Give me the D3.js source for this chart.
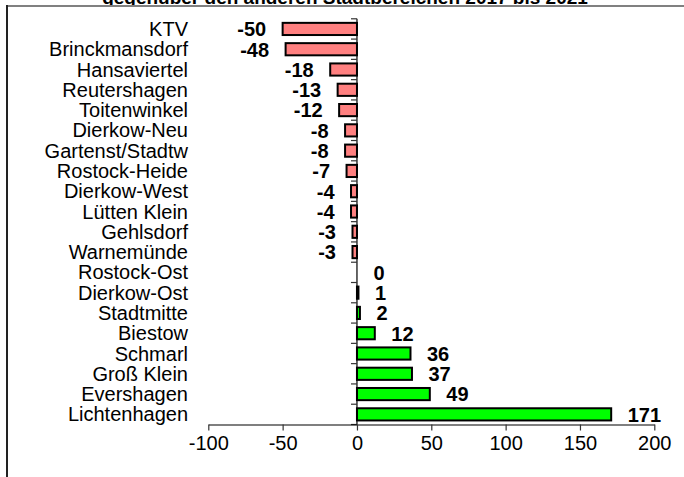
<!DOCTYPE html>
<html><head><meta charset="utf-8">
<script src="https://cdn.jsdelivr.net/npm/d3@7"></script>
<style>html,body{margin:0;padding:0;background:#fff;overflow:hidden}</style>
</head><body>
<script>
const categories = ["KTV","Brinckmansdorf","Hansaviertel","Reutershagen","Toitenwinkel","Dierkow-Neu","Gartenst/Stadtw","Rostock-Heide","Dierkow-West","Lütten Klein","Gehlsdorf","Warnemünde","Rostock-Ost","Dierkow-Ost","Stadtmitte","Biestow","Schmarl","Groß Klein","Evershagen","Lichtenhagen"];
const values = [-50,-48,-18,-13,-12,-8,-8,-7,-4,-4,-3,-3,0,1,2,12,36,37,49,171];
const xTicks = [-100,-50,0,50,100,150,200];
const title = "gegenüber den anderen Stadtbereichen 2017 bis 2021";

const W = 684, H = 477;
const FS = 20;
const svg = d3.select("body").append("svg").attr("width", W).attr("height", H)
  .style("font-family", "Arial, 'Liberation Sans', sans-serif");

svg.append("text").attr("x", 345).attr("y", 4).attr("text-anchor", "middle")
  .attr("font-weight", "bold").attr("font-size", 19).attr("fill", "#000").text(title);
svg.append("rect").attr("x", 6).attr("y", 5).attr("width", W).attr("height", H).attr("fill", "#fff");
svg.append("line").attr("x1", 6).attr("x2", W).attr("y1", 6).attr("y2", 6).attr("stroke", "#808080").attr("stroke-width", 2);
svg.append("line").attr("x1", 7).attr("x2", 7).attr("y1", 5).attr("y2", H).attr("stroke", "#222").attr("stroke-width", 2);

const x = d3.scaleLinear().domain([-100, 200]).range([208.3, 654.3]);
const y = d3.scaleBand().domain(categories).range([18.8, 424.5]).paddingInner(0.4).paddingOuter(0.2);
const bw = y.bandwidth(), step = y.step();

// bars
svg.append("g").selectAll("rect").data(values).join("rect")
  .attr("x", d => x(Math.min(0, d)))
  .attr("y", (d, i) => y(categories[i]))
  .attr("width", d => Math.abs(x(d) - x(0)))
  .attr("height", bw)
  .attr("fill", d => d < 0 ? "#FF8080" : "#00FF00")
  .attr("stroke", "#000").attr("stroke-width", 2);

// y axis line and ticks at band boundaries
const yTop = y(categories[0]) + bw / 2 - step / 2;
const yBot = y(categories[categories.length - 1]) + bw / 2 + step / 2;
const ya = svg.append("g");
ya.append("line").attr("x1", x(0)).attr("x2", x(0)).attr("y1", yTop).attr("y2", yBot).attr("stroke", "#000").attr("stroke-width", 1.2);
const bounds = categories.map(c => y(c) + bw / 2 - step / 2).concat([yBot]);
ya.selectAll("line.t").data(bounds).join("line").attr("class", "t")
  .attr("x1", x(0) - 6).attr("x2", x(0)).attr("y1", d => d).attr("y2", d => d)
  .attr("stroke", "#333").attr("stroke-width", 1.2);

// category labels
svg.append("g").selectAll("text").data(categories).join("text")
  .attr("x", 188).attr("y", c => y(c) + bw / 2 + 7)
  .attr("text-anchor", "end").attr("font-size", FS).attr("fill", "#000").text(c => c);

// value labels
svg.append("g").selectAll("text").data(values).join("text")
  .attr("x", d => d < 0 ? x(d) - 16.5 : x(d) + 16.5)
  .attr("y", (d, i) => y(categories[i]) + bw / 2 + 7.3)
  .attr("text-anchor", d => d < 0 ? "end" : "start")
  .attr("font-weight", "bold").attr("font-size", FS).attr("fill", "#000").text(d => String(d));

// x axis
const xa = svg.append("g").attr("transform", `translate(0,${yBot})`)
  .call(d3.axisBottom(x).tickValues(xTicks).tickSize(6).tickSizeOuter(0).tickPadding(5).tickFormat(d => String(d)));
xa.select(".domain").attr("stroke", "#000").attr("stroke-width", 1.2);
xa.selectAll(".tick line").attr("stroke", "#333").attr("stroke-width", 1.2);
xa.selectAll(".tick text").attr("font-size", FS).attr("fill", "#000")
  .attr("font-family", "Arial, 'Liberation Sans', sans-serif").attr("dy", "0.71em");
</script>
</body></html>
